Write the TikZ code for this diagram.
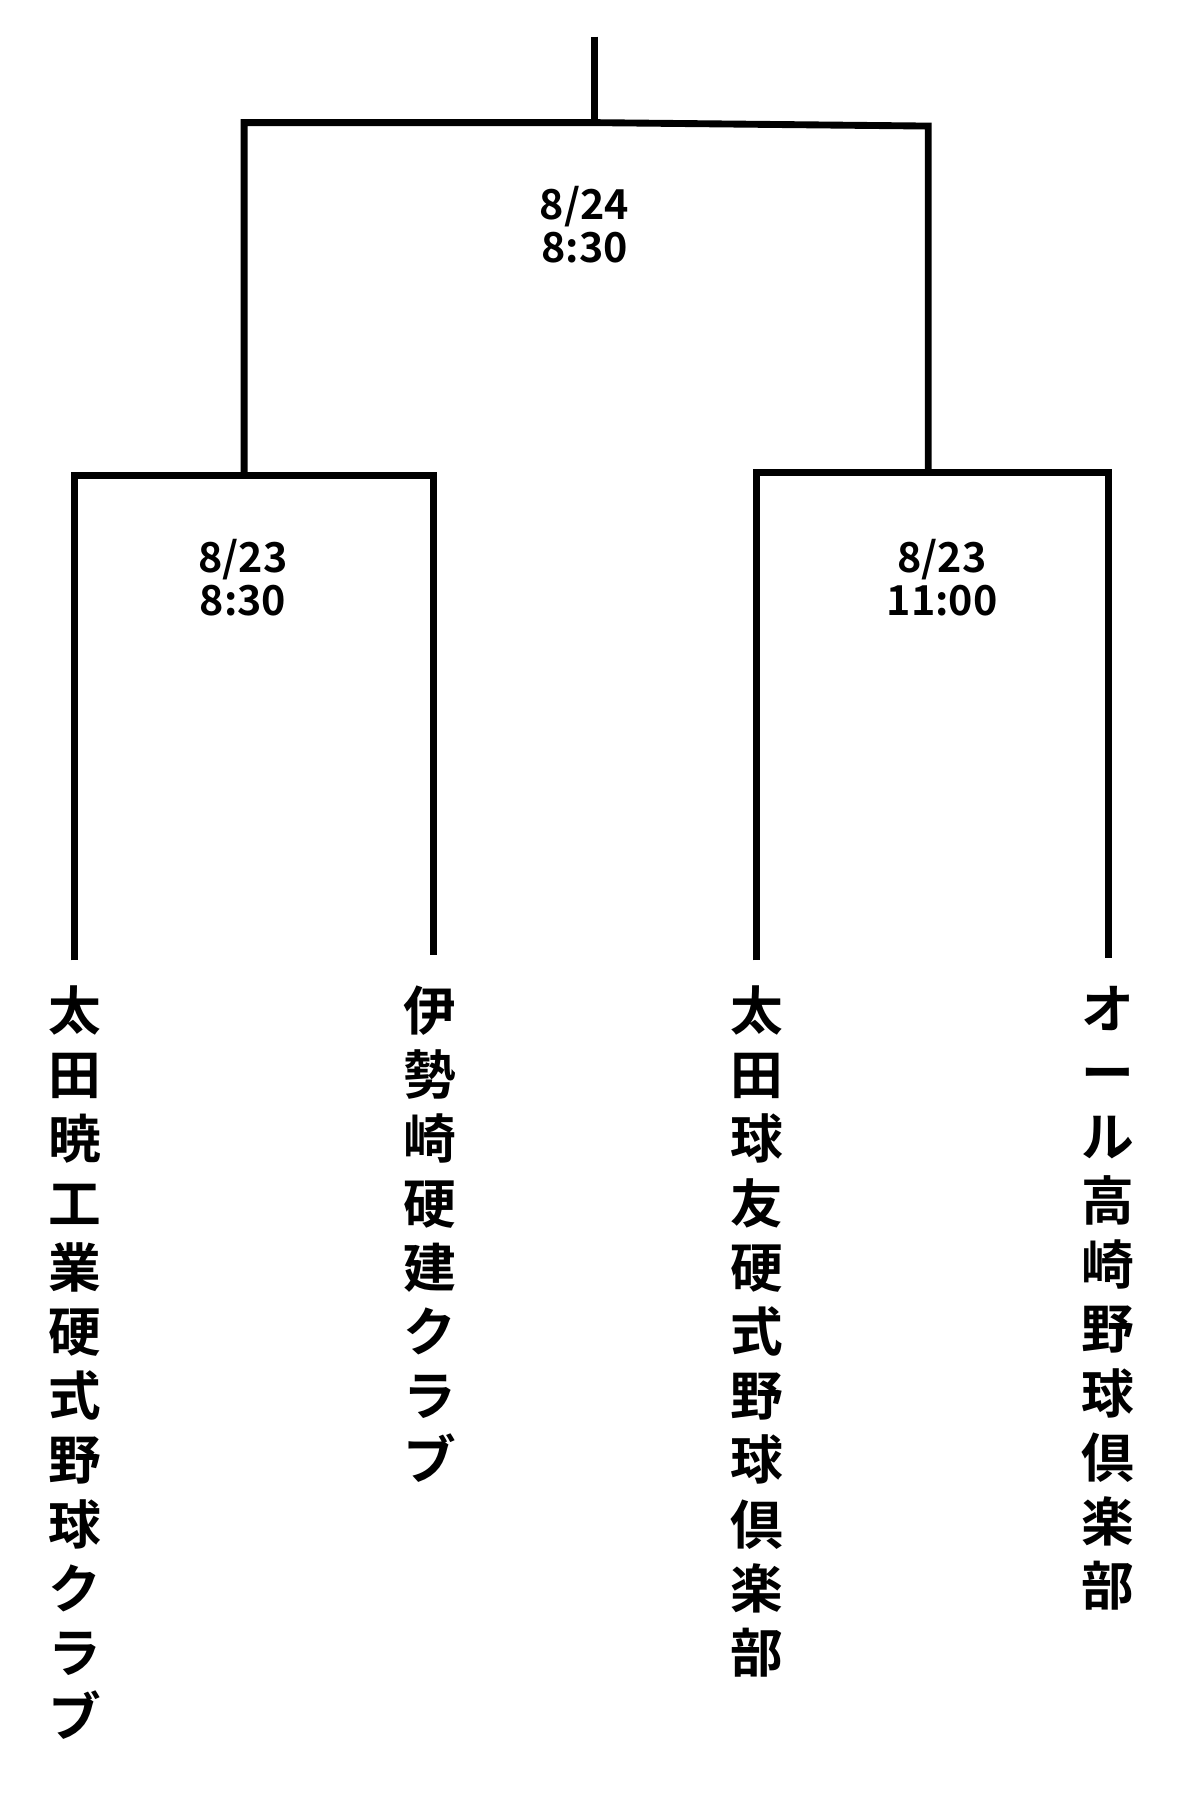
\documentclass[tikz,border=0pt]{standalone}
\usepackage{fontspec}
\setmainfont{Noto Sans CJK JP}[BoldFont={Noto Sans CJK JP Bold}]
\begin{document}
\begin{tikzpicture}[x=1pt,y=-1pt,
  br/.style={line width=6pt,line cap=butt,line join=miter},
  dt/.style={font=\fontsize{36}{38}\selectfont,align=center},
  team/.style={anchor=north,align=center,font=\bfseries\fontsize{46}{#1}\selectfont,inner sep=0pt}]
\useasboundingbox (0,0) rectangle (1050,1575);
\coordinate (top) at (519,32);
\coordinate (f) at (519,107);
\coordinate (fl) at (213,107);
\coordinate (fr) at (810,110);
\coordinate (sl) at (213,415);
\coordinate (sr) at (810,412);
\coordinate (a1) at (65,415); \coordinate (a2) at (378,415);
\coordinate (b1) at (660,412); \coordinate (b2) at (967,412);
\node[team=56] (t1) at (65,860) {太\\田\\暁\\工\\業\\硬\\式\\野\\球\\ク\\ラ\\ブ};
\node[team=56] (t2) at (375,860) {伊\\勢\\崎\\硬\\建\\ク\\ラ\\ブ};
\node[team=56] (t3) at (660,860) {太\\田\\球\\友\\硬\\式\\野\\球\\倶\\楽\\部};
\node[team=56] (t4) at (967,860) {オ\\ー\\ル\\高\\崎\\野\\球\\倶\\楽\\部};
\draw[br] (top) -- (f);
\draw[br] (sl) -- (fl) -- (f) -- (fr) -- (sr);
\draw[br] (65,838) -- (a1) -- (a2) -- (378,833);
\draw[br] (660,838) -- (b1) -- (b2) -- (967,836);
\node[dt] (d1) at (510,196) {\bfseries 8/24\\\bfseries 8:30};
\node[dt] (d2) at (212,504) {\bfseries 8/23\\\bfseries 8:30};
\node[dt] (d3) at (822,504) {\bfseries 8/23\\\bfseries 11:00};
\end{tikzpicture}
\end{document}
